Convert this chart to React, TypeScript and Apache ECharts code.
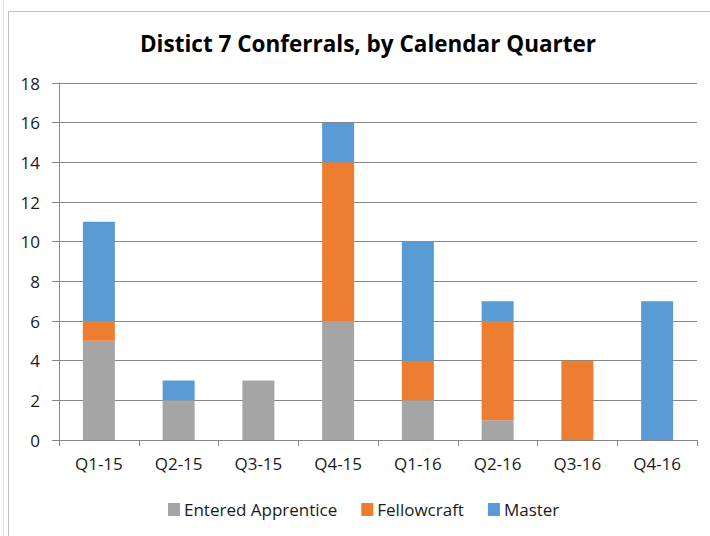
import React, { useEffect, useRef } from "react";
import * as echarts from "echarts";

const categories = ["Q1-15", "Q2-15", "Q3-15", "Q4-15", "Q1-16", "Q2-16", "Q3-16", "Q4-16"];
const enteredApprentice = [5, 2, 3, 6, 2, 1, 0, 0];
const fellowcraft = [1, 0, 0, 8, 2, 5, 4, 0];
const master = [5, 1, 0, 2, 6, 1, 0, 7];
const yTicks = { min: 0, max: 18, interval: 2 };
const titleText = "Distict 7 Conferrals, by Calendar Quarter";

export default function App() {
  const ref = useRef<HTMLDivElement>(null);
  useEffect(() => {
    if (!ref.current) return;
    const chart = echarts.init(ref.current, null, { renderer: "svg" });
    const font = "'Open Sans', 'Noto Sans', sans-serif";
    const mk = (name: string, data: number[], color: string) => ({
      name,
      type: "bar",
      stack: "total",
      data,
      barWidth: 32,
      itemStyle: { color },
    });
    chart.setOption({
      animation: false,
      backgroundColor: "#ffffff",
      textStyle: { fontFamily: font },
      title: {
        text: titleText,
        left: 363,
        textAlign: "center",
        top: 27,
        textStyle: { fontSize: 22.5, fontWeight: "bold", color: "#000000", fontFamily: font },
      },
      graphic: [
        { type: "rect", shape: { x: 8.5, y: 11.5, width: 710, height: 530 }, style: { fill: "none", stroke: "#bfbfbf", lineWidth: 1 }, silent: true },
        { type: "line", shape: { x1: 3.5, y1: 0, x2: 3.5, y2: 536 }, style: { stroke: "#e0e0e0", lineWidth: 1 }, silent: true },
      ],
      legend: {
        data: ["Entered Apprentice", "Fellowcraft", "Master"],
        left: 163,
        top: 496,
        itemWidth: 12,
        itemHeight: 13,
        itemGap: 24,
        icon: "rect",
        textStyle: { fontSize: 17, color: "#1a1a1a", fontFamily: font, padding: [0, 0, 0, -1] },
      },
      grid: { left: 59, right: 13, top: 83, bottom: 96, containLabel: false },
      xAxis: {
        type: "category",
        data: categories,
        axisLine: { lineStyle: { color: "#868686" } },
        axisTick: { show: true, length: 6, lineStyle: { color: "#868686" } },
        axisLabel: { fontSize: 17, color: "#1a1a1a", margin: 15, fontFamily: font },
      },
      yAxis: {
        type: "value",
        min: yTicks.min,
        max: yTicks.max,
        interval: yTicks.interval,
        axisLine: { show: true, lineStyle: { color: "#868686" } },
        axisTick: { show: true, length: 7, lineStyle: { color: "#868686" } },
        splitLine: { lineStyle: { color: "#868686" } },
        axisLabel: { fontSize: 17, color: "#1a1a1a", margin: 19, fontFamily: font },
      },
      series: [
        mk("Entered Apprentice", enteredApprentice, "#A5A5A5"),
        mk("Fellowcraft", fellowcraft, "#ED7D31"),
        mk("Master", master, "#5B9BD5"),
      ],
    });
    return () => chart.dispose();
  }, []);
  return <div ref={ref} style={{ position: "fixed", left: 0, top: 0, width: 710, height: 536 }} />;
}
